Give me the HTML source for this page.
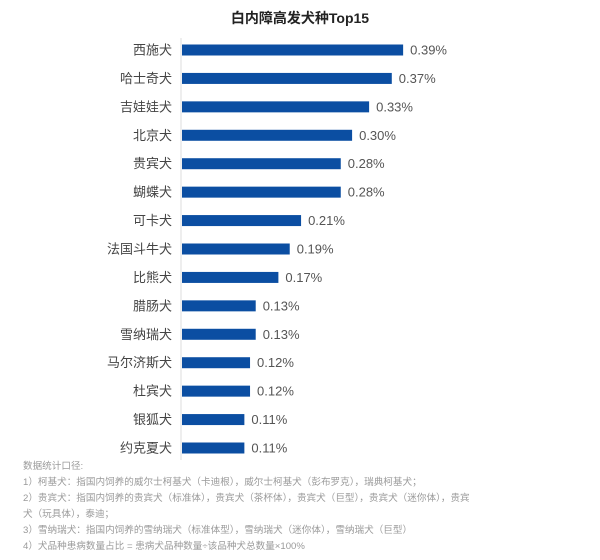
<!DOCTYPE html>
<html><head><meta charset="utf-8"><style>
body{margin:0;width:600px;height:560px;background:#fff;font-family:"Liberation Sans","Noto Sans CJK SC",sans-serif;overflow:hidden}
.t{position:absolute;left:0;top:8px;width:600px;text-align:center;font-size:14px;font-weight:bold;color:#222}
.n{position:absolute;left:23px;font-size:9.6px;color:#9a9a9a;white-space:nowrap;line-height:16px}
</style></head><body>
<div class="t">白内障高发犬种Top15</div>
<svg id="c" width="600" height="460" style="position:absolute;left:0;top:0"></svg>
<div class="n" style="top:459px">数据统计口径:</div>
<div class="n" style="top:475px">1）柯基犬：指国内饲养的威尔士柯基犬（卡迪根），威尔士柯基犬（彭布罗克），瑞典柯基犬；</div>
<div class="n" style="top:491px">2）贵宾犬：指国内饲养的贵宾犬（标准体），贵宾犬（茶杯体），贵宾犬（巨型），贵宾犬（迷你体），贵宾</div>
<div class="n" style="top:507px">犬（玩具体），泰迪；</div>
<div class="n" style="top:523px">3）雪纳瑞犬：指国内饲养的雪纳瑞犬（标准体型），雪纳瑞犬（迷你体），雪纳瑞犬（巨型）</div>
<div class="n" style="top:539px">4）犬品种患病数量占比 = 患病犬品种数量÷该品种犬总数量×100%</div>
<script>
const categories=["西施犬","哈士奇犬","吉娃娃犬","北京犬","贵宾犬","蝴蝶犬","可卡犬","法国斗牛犬","比熊犬","腊肠犬","雪纳瑞犬","马尔济斯犬","杜宾犬","银狐犬","约克夏犬"];
const values=[0.39,0.37,0.33,0.30,0.28,0.28,0.21,0.19,0.17,0.13,0.13,0.12,0.12,0.11,0.11];
const labels=["0.39%","0.37%","0.33%","0.30%","0.28%","0.28%","0.21%","0.19%","0.17%","0.13%","0.13%","0.12%","0.12%","0.11%","0.11%"];
const svg=document.getElementById('c'),NS="http://www.w3.org/2000/svg";
const x0=182,k=567,y0=50,step=(448-50)/14;
const xs=v=>x0+v*k, ys=i=>y0+i*step;
function mk(t,a){const e=document.createElementNS(NS,t);for(const p in a)e.setAttribute(p,a[p]);svg.appendChild(e);return e;}
const ax=mk('line',{x1:181,x2:181,y1:38,y2:460,stroke:'#ddd','stroke-width':1});


categories.forEach((c,i)=>{
 const y=ys(i);
 const t=mk('text',{x:172,y:y+4.5,'text-anchor':'end','font-size':13,fill:'#444'});t.textContent=c;
 
 
 const r=mk('rect',{x:x0,y:y-5.5,width:xs(values[i])-x0,height:11,fill:'#0b4ea2'});
 
 
 const v=mk('text',{x:xs(values[i])+7,y:y+4.5,'font-size':13,fill:'#555'});v.textContent=labels[i];
 
 
});
</script>
</body></html>
